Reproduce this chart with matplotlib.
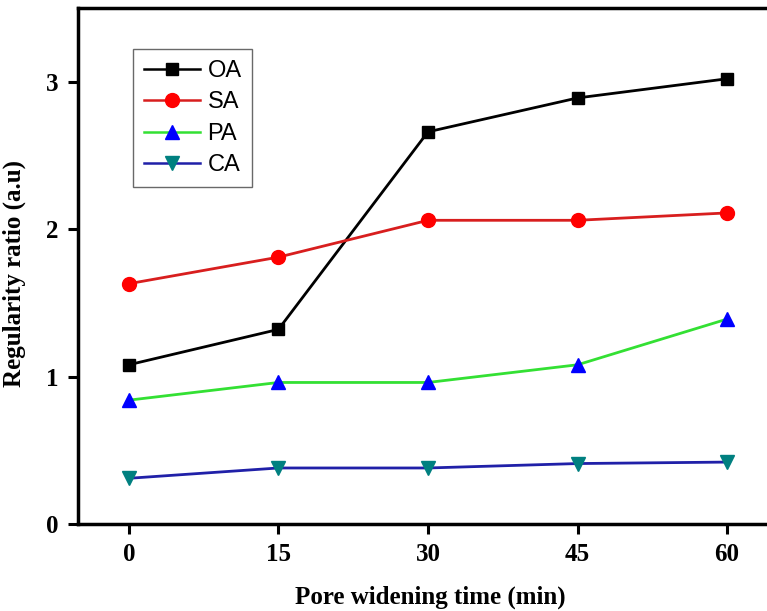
import matplotlib
matplotlib.use('Agg')
import matplotlib.pyplot as plt
import numpy as np

# pore widening time (min)
times = [0, 15, 30, 45, 60]

oa = [1.08, 1.32, 2.66, 2.89, 3.02]
sa = [1.63, 1.81, 2.06, 2.06, 2.11]
pa = [0.84, 0.96, 0.96, 1.08, 1.39]
ca = [0.31, 0.38, 0.38, 0.41, 0.42]

serif = ['Liberation Serif', 'DejaVu Serif']
sans = ['Liberation Sans', 'DejaVu Sans']

fig = plt.figure(figsize=(7.67, 6.11), dpi=100)
ax = fig.add_axes([78 / 767, 87 / 611, 1.0 - 78 / 767, 516 / 611])

ax.plot(times, oa, color='black', lw=2, marker='s', ms=9, mfc='black', mec='black', label='OA')
ax.plot(times, sa, color='#d81e1e', lw=2, marker='o', ms=10, mfc='#ff0000', mec='#ff0000', label='SA')
ax.plot(times, pa, color='#33e033', lw=2, marker='^', ms=10, mfc='#0000ff', mec='#0000ff', label='PA')
ax.plot(times, ca, color='#2020a8', lw=2, marker='v', ms=10, mfc='#008080', mec='#008080', label='CA')

ax.set_xlim(-5.1, 64)
ax.set_ylim(0, 3.5)
ax.set_xticks(times)
ax.set_yticks([0, 1, 2, 3])

for s in ['left', 'top', 'bottom']:
    ax.spines[s].set_linewidth(2.5)
ax.spines['right'].set_visible(False)

ax.tick_params(direction='out', length=7, width=2.2, pad=7)
for lab in ax.get_xticklabels() + ax.get_yticklabels():
    lab.set_fontfamily(serif)
    lab.set_fontweight('bold')
    lab.set_fontsize(18)

ax.set_xlabel('Pore widening time (min)', fontfamily=serif, fontweight='bold', fontsize=18)
ax.set_ylabel('Regularity ratio (a.u)', fontfamily=serif, fontweight='bold', fontsize=18)
ax.xaxis.set_label_coords(0.511, -0.12)
ax.yaxis.set_label_coords(-0.076, 0.485)

leg = ax.legend(loc='upper left', bbox_to_anchor=(0.08, 0.92), prop={'family': sans, 'size': 17},
                frameon=True, fancybox=False, edgecolor='#444444', handlelength=2.4,
                handletextpad=0.3, borderpad=0.45, borderaxespad=0, labelspacing=0.4)
leg.get_frame().set_linewidth(1.0)
for line in leg.get_lines():
    line.set_linewidth(1.8)

fig.savefig('out.png', dpi=100)
